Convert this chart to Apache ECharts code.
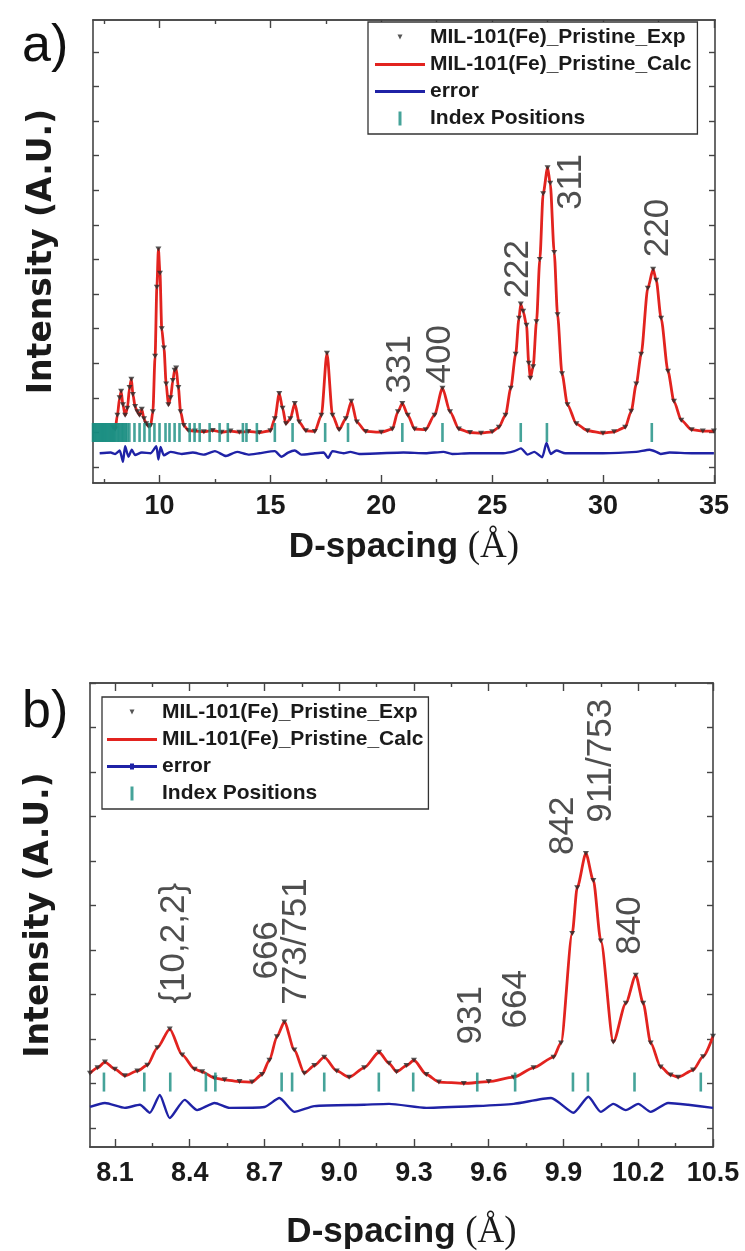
<!DOCTYPE html>
<html><head><meta charset="utf-8">
<script src="https://cdn.jsdelivr.net/npm/echarts@6/dist/echarts.min.js"></script>
<style>html,body{margin:0;padding:0;background:#fff}#c{width:745px;height:1251px}</style>
</head><body><div id="c"></div>
<script>
// ---------- panel a) ----------
const topX = [7.9,8.0,8.1,8.2,8.27,8.35,8.45,8.55,8.65,8.73,8.8,8.9,9.0,9.1,9.2,9.3,9.4,9.5,9.6,9.7,9.8,9.88,9.95,10.02,10.1,10.2,10.3,10.4,10.5,10.6,10.68,10.75,10.85,10.95,11.1,11.3,11.6,12.0,12.4,12.8,13.2,13.6,14.0,14.5,15.0,15.2,15.4,15.55,15.7,15.9,16.1,16.3,16.6,17.0,17.3,17.55,17.8,18.1,18.4,18.65,18.9,19.3,20.0,20.5,20.75,20.95,21.2,21.5,22.0,22.4,22.76,23.1,23.5,24.0,24.5,25.0,25.3,25.6,25.84,26.06,26.21,26.29,26.4,26.55,26.65,26.72,26.85,27.0,27.15,27.3,27.5,27.62,27.8,27.95,28.15,28.4,28.8,29.3,30.0,30.5,31.0,31.27,31.5,31.72,32.02,32.26,32.4,32.62,32.93,33.2,33.53,34.0,34.5,35.0];
const topCalc = [115,110,150,200,219,180,150,170,230,254,210,175,160,150,167,140,125,118,120,160,320,520,630,560,400,344,240,180,200,250,280,286,230,160,120,106,104,102,106,101,104,101,103,100,105,140,213,170,125,140,184,130,105,103,150,329,150,108,140,190,130,103,101,110,160,184,150,110,108,150,228,160,110,100,98,102,115,150,228,326,430,471,450,410,300,257,290,420,600,790,865,820,620,440,270,180,125,105,98,102,115,161,240,326,517,572,540,430,277,190,135,108,104,104];
const topErrX = [7.3,7.8,8.0,8.2,8.35,8.45,8.6,8.75,8.9,9.2,9.6,9.85,9.95,10.05,10.2,10.5,11.0,11.5,12.0,12.5,13.0,13.5,14.0,14.5,15.2,15.5,15.8,16.1,16.4,17.0,17.4,17.6,17.8,18.3,18.6,19.0,20.0,21.0,22.0,22.8,23.2,24.0,25.5,26.0,26.3,26.6,26.9,27.25,27.45,27.65,27.9,28.3,30.0,31.5,32.1,32.4,32.6,33.0,34.0,35.0];
const topErr = [40,42,38,48,15,60,30,50,35,42,40,60,22,58,34,44,38,42,36,46,32,44,36,40,46,30,42,48,36,40,42,26,46,40,44,38,40,42,40,44,38,40,40,46,54,36,44,28,70,38,48,40,40,44,50,44,38,42,40,40];
const topIndex = [7.0,7.05,7.1,7.15,7.2,7.25,7.3,7.35,7.4,7.45,7.5,7.55,7.6,7.65,7.7,7.75,7.8,7.85,7.9,7.95,8.0,8.06,8.12,8.18,8.24,8.3,8.36,8.42,8.48,8.55,8.64,8.87,9.1,9.32,9.55,9.77,10.0,10.27,10.45,10.68,10.9,11.36,11.58,11.81,12.26,12.71,13.08,13.76,13.92,14.39,15.2,16.0,17.47,18.5,20.95,22.76,26.29,27.47,32.2];
const topPeakNames = ['331','400','222','311','220'];
const topPeakX = [20.86,22.67,26.2,28.55,32.49];
const topPeakY = [297,326,572,824,691];
const topTicks = [10,15,20,25,30,35];
const topMinorTicks = [7.5,12.5,17.5,22.5,27.5,32.5];
const topYTicks = [0,100,200,300,400,500,600,700,800,900,1000,1100,1200];

// ---------- panel b) ----------
const botX = [8.0,8.03,8.06,8.1,8.14,8.19,8.23,8.27,8.32,8.37,8.42,8.45,8.5,8.54,8.6,8.65,8.69,8.72,8.75,8.78,8.82,8.86,8.9,8.94,8.99,9.04,9.1,9.16,9.2,9.23,9.27,9.3,9.35,9.4,9.5,9.6,9.7,9.78,9.86,9.89,9.935,9.955,9.99,10.02,10.05,10.1,10.15,10.19,10.22,10.25,10.29,10.33,10.36,10.42,10.46,10.5];
const botCalc = [123,135,148,132,117,128,141,180,222,164,132,126,112,108,104,103,120,152,205,238,175,123,140,159,128,114,135,170,145,126,140,152,120,103,100,104,114,135,159,191,437,540,617,556,420,193,280,343,280,191,137,119,114,130,160,206];
const botErrX = [8.0,8.06,8.14,8.2,8.24,8.28,8.32,8.38,8.43,8.5,8.56,8.7,8.76,8.82,8.9,9.1,9.2,9.35,9.55,9.7,9.85,9.94,10.0,10.05,10.1,10.15,10.2,10.25,10.32,10.4,10.5];
const botErr = [47,56,45,52,34,74,22,63,40,56,45,47,67,36,49,52,54,45,49,54,67,34,70,36,54,40,54,36,56,52,45];
const botIndex = [8.056,8.218,8.322,8.465,8.503,8.769,8.811,8.94,9.159,9.297,9.554,9.706,9.938,9.998,10.185,10.451];
const botPeakNames = ['{10,2,2}','666','773/751','931','664','842','911/753','840'];
const botPeakX = [8.34,8.71,8.83,9.53,9.71,9.90,10.05,10.17];
const botPeakY = [415,399,419,253,289,679,825,455];
const botTicks = [8.1,8.4,8.7,9.0,9.3,9.6,9.9,10.2,10.5];
const botMinorTicks = [8.25,8.55,8.85,9.15,9.45,9.75,10.05,10.35];
const botYTicks = [0,100,200,300,400,500,600,700,800,900,1000];

// ---------- styling ----------
const RED = '#e2231f', BLUE = '#1f22a6', TEAL = '#178c80', EXPC = '#2a2a2a', AX = '#444';
const SANS = 'Liberation Sans';
const N_EXP = 'MIL-101(Fe)_Pristine_Exp', N_CALC = 'MIL-101(Fe)_Pristine_Calc', N_ERR = 'error', N_IDX = 'Index Positions';

function xAxis(grid, min, max, pos, ticks, len, labels, decimals, nameGap, margin) {
  const a = {
    type: 'value', gridIndex: grid, position: pos, min: min, max: max,
    axisLine: { show: true, onZero: false, lineStyle: { color: AX, width: 1.6 } },
    axisTick: { show: true, inside: true, length: len, customValues: ticks, lineStyle: { color: AX, width: 1.4 } },
    axisLabel: { show: false },
    splitLine: { show: false }
  };
  if (labels) {
    a.axisLabel = { show: true, customValues: ticks, margin: margin, fontFamily: SANS, fontWeight: 'bold', fontSize: 27, color: '#1a1a1a',
      formatter: v => Number(v).toFixed(decimals) };
    a.name = '{a|D-spacing }{b|(Å)}';
    a.nameLocation = 'middle';
    a.nameGap = nameGap;
    a.nameTextStyle = { rich: {
      a: { fontFamily: SANS, fontWeight: 'bold', fontSize: 35, color: '#1a1a1a' },
      b: { fontFamily: 'Liberation Serif', fontWeight: 'normal', fontSize: 37, color: '#1a1a1a' } } };
  }
  return a;
}
function yAxis(grid, min, max, pos, ticks, named) {
  const a = {
    type: 'value', gridIndex: grid, position: pos, min: min, max: max,
    axisLine: { show: true, onZero: false, lineStyle: { color: AX, width: 1.6 } },
    axisTick: { show: true, inside: true, length: 6, customValues: ticks, lineStyle: { color: AX, width: 1.4 } },
    axisLabel: { show: false }, splitLine: { show: false }
  };
  if (named) {
    a.name = 'Intensity (A.U.)'; a.nameLocation = 'middle'; a.nameRotate = 90; a.nameGap = 34;
    a.nameTextStyle = { fontFamily: 'DejaVu Sans', fontWeight: 'bold', fontSize: 33, color: '#1a1a1a' };
  }
  return a;
}
function panelSeries(xi, yi, xs, calc, errX, err, idx, idxY, names, px, py) {
  const calcData = xs.map((x, i) => [x, calc[i]]);
  return [
    { name: N_CALC, type: 'line', xAxisIndex: xi, yAxisIndex: yi, data: calcData, symbol: 'none', smooth: 0.25, smoothMonotone: 'x',
      lineStyle: { color: RED, width: 2.8 }, itemStyle: { color: RED }, z: 3 },
    { name: N_EXP, type: 'scatter', xAxisIndex: xi, yAxisIndex: yi, data: calcData, symbol: 'path://M0 0L10 0L5 8Z', symbolSize: [6, 5],
      itemStyle: { color: EXPC }, z: 4 },
    { name: N_ERR, type: 'line', xAxisIndex: xi, yAxisIndex: yi, data: errX.map((x, i) => [x, err[i]]), symbol: 'none', smooth: 0.2,
      lineStyle: { color: BLUE, width: 2.4 }, itemStyle: { color: BLUE }, z: 3 },
    { name: N_IDX, type: 'scatter', xAxisIndex: xi, yAxisIndex: yi, data: idx.map(x => [x, idxY]), symbol: 'rect', symbolSize: [2.6, 19],
      itemStyle: { color: TEAL }, z: 5 },
    { type: 'scatter', xAxisIndex: xi, yAxisIndex: yi, silent: true, symbolSize: 1, itemStyle: { color: 'transparent' }, z: 6,
      data: names.map((n, i) => ({ name: n, value: [px[i], py[i]] })),
      label: { show: true, position: 'inside', rotate: 90, formatter: p => p.name, fontFamily: SANS, fontSize: 35, color: '#222' } }
  ];
}
const LINE_ICON = 'path://M0 5.5L50 5.5L50 8.5L0 8.5Z';
function legend(left, top, errIcon, pad) {
  return {
    orient: 'vertical', left: left, top: top, itemWidth: 50, itemHeight: 14, itemGap: 6, padding: pad,
    borderColor: '#333', borderWidth: 1.3, backgroundColor: '#fff', selectedMode: false,
    itemStyle: { borderWidth: 0 },
    textStyle: { fontFamily: SANS, fontWeight: 'bold', fontSize: 21, lineHeight: 21, color: '#1a1a1a' },
    data: [
      { name: N_EXP, icon: 'path://M0 0M50 14M22.5 4L27.5 4L25 9Z' },
      { name: N_CALC, icon: LINE_ICON },
      { name: N_ERR, icon: errIcon },
      { name: N_IDX, icon: 'path://M0 0M50 14M23.5 0L26.5 0L26.5 14L23.5 14Z' }
    ]
  };
}

const option = {
  animation: false,
  backgroundColor: '#fff',
  title: [
    { text: 'a)', left: 17, top: 16, textStyle: { fontFamily: SANS, fontWeight: 'normal', fontSize: 52, color: '#111' } },
    { text: 'b)', left: 17, top: 682, textStyle: { fontFamily: SANS, fontWeight: 'normal', fontSize: 52, color: '#111' } }
  ],
  legend: [
    legend(368, 22, LINE_ICON, [5, 6, 5, 7]),
    legend(102, 697, 'path://M0 5.5L50 5.5L50 8.5L0 8.5Z M23 4L27 4L27 10L23 10Z', [5, 5, 5, 5])
  ],
  grid: [
    { left: 93, right: 30, top: 20, height: 463, outerBoundsMode: 'none' },
    { left: 90, right: 32, top: 683, height: 464, outerBoundsMode: 'none' }
  ],
  xAxis: [
    xAxis(0, 7, 35.05, 'bottom', topTicks, 8, true, 0, 46, 10),
    xAxis(0, 7, 35.05, 'bottom', topMinorTicks, 4, false),
    xAxis(0, 7, 35.05, 'top', topTicks, 8, false),
    xAxis(0, 7, 35.05, 'top', topMinorTicks, 4, false),
    xAxis(1, 8.0, 10.5, 'bottom', botTicks, 8, true, 1, 67, 13),
    xAxis(1, 8.0, 10.5, 'bottom', botMinorTicks, 4, false),
    xAxis(1, 8.0, 10.5, 'top', botTicks, 8, false),
    xAxis(1, 8.0, 10.5, 'top', botMinorTicks, 4, false)
  ],
  yAxis: [
    yAxis(0, -46, 1292, 'left', topYTicks, true),
    yAxis(0, -46, 1292, 'right', topYTicks, false),
    yAxis(1, -43, 1000, 'left', botYTicks, true),
    yAxis(1, -43, 1000, 'right', botYTicks, false)
  ],
  series: [].concat(
    panelSeries(0, 0, topX, topCalc, topErrX, topErr, topIndex, 100, topPeakNames, topPeakX, topPeakY),
    panelSeries(4, 2, botX, botCalc, botErrX, botErr, botIndex, 103, botPeakNames, botPeakX, botPeakY)
  )
};
const chart = echarts.init(document.getElementById('c'), null, { renderer: 'canvas' });
chart.setOption(option);
</script></body></html>
